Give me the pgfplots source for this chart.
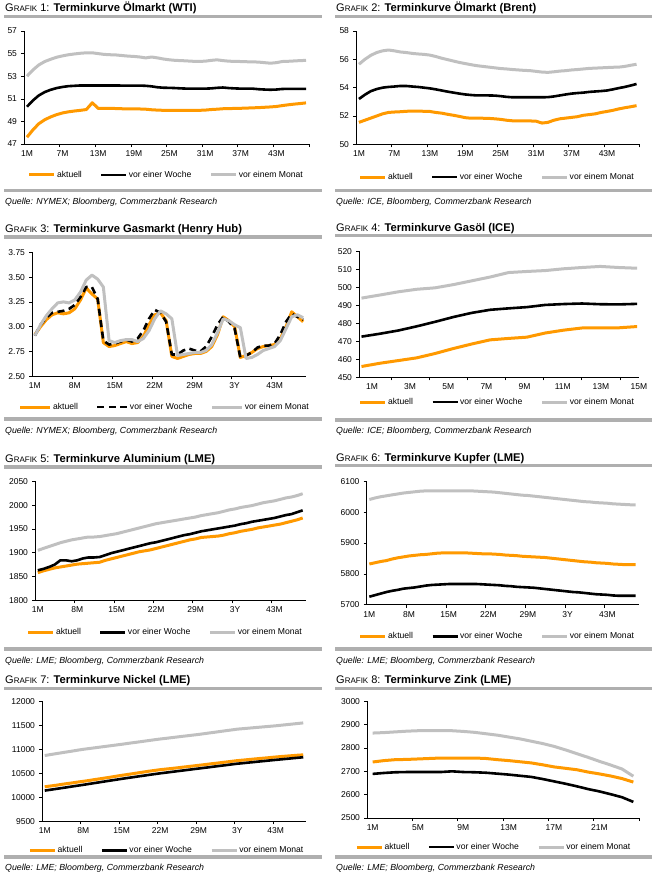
\documentclass[border=0pt]{standalone}
\usepackage{fontspec}
\setmainfont{Liberation Sans}
\usepackage{pgfplots}
\usepackage{pgfplotstable}
\pgfplotsset{compat=1.18}

\definecolor{cbOrange}{RGB}{255,153,0}
\definecolor{cbGray}{RGB}{192,192,192}
\definecolor{ruleGray}{RGB}{175,175,175}

% m = Monat, a = aktuell, w = vor einer Woche, mo = vor einem Monat
\pgfplotstableread{
m a w mo
1 47.60 50.30 53.00
2 48.25 50.85 53.55
3 48.80 51.30 54.00
4 49.15 51.60 54.30
5 49.40 51.80 54.50
6 49.60 51.95 54.68
7 49.75 52.05 54.80
8 49.85 52.12 54.90
9 49.92 52.15 54.97
10 49.98 52.18 55.03
11 50.05 52.18 55.07
12 50.65 52.18 55.07
13 50.15 52.18 55.00
14 50.15 52.18 54.93
15 50.15 52.18 54.90
16 50.14 52.18 54.88
17 50.12 52.17 54.83
18 50.10 52.17 54.78
19 50.10 52.17 54.75
20 50.10 52.17 54.70
21 50.08 52.15 54.62
22 50.03 52.10 54.70
23 50.00 52.02 54.62
24 49.98 51.98 54.52
25 49.97 51.97 54.45
26 49.97 51.95 54.40
27 49.97 51.92 54.38
28 49.97 51.90 54.35
29 49.97 51.90 54.32
30 49.98 51.90 54.31
31 50.00 51.90 54.33
32 50.05 51.92 54.40
33 50.08 51.97 54.45
34 50.12 52.00 54.38
35 50.13 51.95 54.33
36 50.15 51.92 54.31
37 50.16 51.90 54.30
38 50.18 51.90 54.28
39 50.20 51.90 54.27
40 50.22 51.85 54.25
41 50.25 51.82 54.20
42 50.28 51.80 54.15
43 50.32 51.82 54.20
44 50.40 51.87 54.30
45 50.47 51.88 54.32
46 50.53 51.88 54.35
47 50.58 51.88 54.38
48 50.64 51.88 54.40
}\wti

\pgfplotstableread{
m a w mo
1 51.55 53.20 55.65
2 51.70 53.50 56.00
3 51.85 53.75 56.28
4 52.00 53.90 56.48
5 52.15 54.00 56.60
6 52.25 54.05 56.66
7 52.28 54.08 56.60
8 52.30 54.12 56.52
9 52.33 54.12 56.48
10 52.35 54.08 56.42
11 52.35 54.05 56.38
12 52.33 54.00 56.35
13 52.32 53.95 56.30
14 52.25 53.88 56.20
15 52.20 53.80 56.08
16 52.12 53.72 55.98
17 52.05 53.65 55.88
18 51.97 53.58 55.78
19 51.88 53.52 55.70
20 51.84 53.48 55.62
21 51.84 53.45 55.55
22 51.84 53.45 55.50
23 51.83 53.45 55.45
24 51.80 53.44 55.40
25 51.76 53.40 55.35
26 51.70 53.35 55.32
27 51.66 53.32 55.28
28 51.65 53.32 55.25
29 51.65 53.32 55.22
30 51.65 53.32 55.20
31 51.63 53.32 55.15
32 51.50 53.32 55.10
33 51.55 53.33 55.08
34 51.70 53.38 55.12
35 51.80 53.45 55.17
36 51.85 53.52 55.20
37 51.90 53.58 55.25
38 51.95 53.62 55.28
39 52.05 53.65 55.32
40 52.10 53.70 55.36
41 52.15 53.73 55.38
42 52.25 53.76 55.40
43 52.32 53.80 55.42
44 52.40 53.88 55.44
45 52.50 53.97 55.45
46 52.58 54.05 55.50
47 52.65 54.15 55.58
48 52.73 54.26 55.65
}\brent

\pgfplotstableread{
m a w mo
1 2.92 2.91 2.91
2 3.00 3.02 3.02
3 3.07 3.09 3.11
4 3.12 3.14 3.18
5 3.14 3.15 3.24
6 3.13 3.16 3.25
7 3.14 3.18 3.24
8 3.18 3.22 3.27
9 3.27 3.30 3.35
10 3.39 3.40 3.47
11 3.33 3.40 3.52
12 3.28 3.28 3.48
13 2.84 2.86 3.40
14 2.80 2.82 2.86
15 2.81 2.83 2.84
16 2.83 2.85 2.86
17 2.85 2.87 2.87
18 2.83 2.85 2.87
19 2.84 2.88 2.85
20 2.90 2.96 2.88
21 3.02 3.08 2.96
22 3.12 3.17 3.08
23 3.14 3.14 3.16
24 3.06 3.05 3.13
25 2.70 2.72 3.08
26 2.68 2.72 2.71
27 2.70 2.76 2.72
28 2.72 2.78 2.73
29 2.73 2.76 2.74
30 2.73 2.75 2.74
31 2.75 2.80 2.76
32 2.80 2.90 2.82
33 2.92 3.02 2.94
34 3.10 3.10 3.08
35 3.06 3.05 3.06
36 3.00 2.98 3.02
37 2.69 2.69 2.99
38 2.71 2.71 2.68
39 2.74 2.74 2.69
40 2.78 2.79 2.72
41 2.80 2.81 2.76
42 2.81 2.81 2.78
43 2.82 2.83 2.80
44 2.88 2.92 2.86
45 3.00 3.05 2.98
46 3.15 3.13 3.10
47 3.10 3.10 3.12
48 3.05 3.07 3.09
}\gas

\pgfplotstableread{
m a w mo
0.45 456.0 472.6 494.0
1.41 457.8 474.2 495.7
2.38 459.3 476.0 497.5
3.34 460.8 478.3 498.9
4.30 463.2 480.8 499.7
5.27 466.0 483.5 501.5
6.23 468.5 485.8 503.6
7.19 470.8 487.5 505.7
8.16 471.6 488.3 508.2
9.12 472.3 489.0 508.8
10.08 474.6 490.2 509.3
11.05 476.2 490.7 510.3
12.01 477.4 491.0 511.0
12.97 477.5 490.6 511.6
13.94 477.5 490.5 511.0
14.90 478.2 490.8 510.6
}\gasoil

\pgfplotstableread{
m a w mo
1 1858 1863 1905
2 1862 1866 1909
3 1865 1870 1913
4 1868 1875 1917
5 1870 1884 1921
6 1872 1884 1924
7 1874 1882 1927
8 1876 1884 1929
9 1877 1888 1931
10 1878 1890 1933
11 1879 1890 1933
12 1880 1891 1934
13 1884 1895 1936
14 1887 1899 1938
15 1890 1902 1940
16 1893 1905 1943
17 1896 1908 1946
18 1899 1911 1949
19 1902 1914 1952
20 1904 1917 1955
21 1906 1920 1958
22 1909 1922 1961
23 1912 1925 1963
24 1915 1928 1965
25 1918 1931 1967
26 1921 1934 1969
27 1924 1937 1971
28 1927 1939 1973
29 1929 1942 1975
30 1932 1945 1978
31 1933 1947 1980
32 1934 1949 1982
33 1935 1951 1984
34 1937 1953 1987
35 1940 1955 1990
36 1942 1957 1992
37 1945 1960 1995
38 1947 1962 1997
39 1949 1965 1999
40 1952 1967 2002
41 1954 1969 2005
42 1956 1971 2007
43 1958 1973 2009
44 1960 1976 2012
45 1963 1979 2015
46 1966 1981 2017
47 1969 1985 2020
48 1973 1989 2024
}\alu

\pgfplotstableread{
m a w mo
1 5832 5726 6041
2 5836 5731 6046
3 5840 5736 6050
4 5843 5741 6053
5 5848 5745 6056
6 5852 5748 6059
7 5855 5752 6062
8 5858 5754 6064
9 5860 5756 6066
10 5862 5759 6068
11 5863 5762 6069
12 5865 5764 6069
13 5867 5765 6069
14 5868 5766 6069
15 5868 5767 6069
16 5868 5767 6069
17 5868 5767 6069
18 5868 5767 6069
19 5867 5767 6069
20 5866 5767 6068
21 5865 5766 6067
22 5865 5765 6066
23 5864 5764 6065
24 5863 5763 6063
25 5861 5761 6061
26 5860 5760 6059
27 5859 5758 6057
28 5857 5757 6055
29 5856 5756 6054
30 5855 5755 6052
31 5854 5753 6050
32 5853 5751 6048
33 5851 5749 6046
34 5849 5747 6044
35 5847 5745 6042
36 5845 5743 6040
37 5843 5741 6038
38 5841 5740 6036
39 5839 5738 6034
40 5838 5736 6033
41 5836 5734 6031
42 5835 5733 6030
43 5834 5732 6029
44 5832 5730 6027
45 5831 5729 6026
46 5830 5729 6025
47 5830 5729 6024
48 5830 5729 6024
}\kupfer

\pgfplotstableread{
m a w mo
1 10220 10140 10870
2 10235 10157 10890
3 10250 10174 10908
4 10268 10191 10927
5 10285 10208 10945
6 10300 10226 10963
7 10318 10243 10982
8 10333 10260 11000
9 10350 10278 11015
10 10368 10296 11030
11 10385 10314 11045
12 10403 10332 11060
13 10420 10350 11075
14 10440 10367 11090
15 10458 10385 11105
16 10475 10402 11121
17 10492 10418 11137
18 10510 10435 11152
19 10527 10451 11168
20 10545 10468 11184
21 10560 10484 11200
22 10576 10500 11215
23 10588 10514 11228
24 10600 10528 11242
25 10613 10543 11256
26 10627 10557 11270
27 10640 10571 11283
28 10653 10586 11297
29 10667 10600 11310
30 10680 10614 11326
31 10695 10628 11342
32 10708 10643 11357
33 10722 10657 11373
34 10736 10671 11389
35 10750 10686 11404
36 10764 10700 11420
37 10775 10711 11430
38 10786 10723 11440
39 10797 10734 11450
40 10808 10746 11460
41 10818 10757 11470
42 10829 10769 11480
43 10840 10780 11490
44 10850 10791 11502
45 10859 10802 11514
46 10868 10813 11526
47 10877 10824 11538
48 10885 10835 11550
}\nickel

\pgfplotstableread{
m a w mo
1 2740 2689 2864
2 2746 2693 2866
3 2750 2696 2869
4 2751 2697 2872
5 2753 2697 2874
6 2755 2697 2874
7 2757 2697 2874
8 2757 2700 2874
9 2757 2697 2871
10 2757 2696 2867
11 2755 2694 2861
12 2750 2690 2855
13 2746 2686 2847
14 2741 2681 2839
15 2736 2676 2829
16 2728 2667 2819
17 2719 2657 2807
18 2713 2647 2792
19 2707 2636 2776
20 2697 2624 2760
21 2689 2614 2743
22 2680 2602 2727
23 2669 2589 2710
24 2654 2569 2679
}\zink

\pgfplotsset{
  panel/.style={
    scale only axis, anchor=south west, clip=false,
    axis x line*=bottom, axis y line*=left,
    axis line style={black, line width=0.6pt},
    tick align=outside,
    major tick length=0pt, minor tick length=3pt,
    minor tick style={black, line width=0.6pt},
    ticklabel style={font=\fontsize{8.5}{10}\selectfont},
    scaled y ticks=false,
    /pgf/number format/assume math mode=true,
    /pgf/number format/1000 sep={},
    yticklabel style={xshift=-3.5pt},
    xticklabel style={yshift=-3pt},
    legend columns=3,
    legend image code/.code={\draw[##1] (0pt,0pt) -- (25pt,0pt);},
    legend style={draw=none, fill=none, anchor=center,
      font=\fontsize{8.6}{10}\selectfont, inner sep=0pt,
      nodes={inner xsep=1.2pt, inner ysep=0.5pt},
      /tikz/every even column/.append style={column sep=17pt}},
    legend cell align=left,
  },
  akt/.style={cbOrange, line width=3pt, line join=round},
  woc/.style={black, line width=2.6pt, line join=round},
  mon/.style={cbGray, line width=3pt, line join=round},
  m48/.style={xmin=0.5, xmax=48.5},
}

\newcommand{\grafik}[4]{\node[anchor=base west, inner sep=0pt] at (#1pt,-#2pt)
  {\fontsize{11}{13}\selectfont G\fontsize{8}{10}\selectfont RAFIK\fontsize{11}{13}\selectfont\ #3: \bfseries\fontsize{11.2}{13}\selectfont #4};}
\newcommand{\quelle}[3]{\node[anchor=base west, inner sep=0pt] at (#1pt,-#2pt)
  {\fontsize{8.8}{10}\selectfont\itshape #3};}
\newcommand{\regel}[4]{\fill[ruleGray] (#1pt,-#3pt) rectangle (#2pt,-#4pt);}

\begin{document}
\begin{tikzpicture}
\path[use as bounding box] (0pt,0pt) rectangle (652pt,-879pt);

% ---------- Grafik 1: WTI
\grafik{5}{11}{1}{Terminkurve Ölmarkt (WTI)}
\regel{4}{322}{15}{18.3}
\begin{axis}[panel, m48, at={(24pt,-144pt)}, width=285pt, height=113pt,
  ymin=47, ymax=57, ytick={47,49,...,57}, minor ytick={47,49,...,57},
  xtick={1,7,...,43}, xticklabels={1M,7M,13M,19M,25M,31M,37M,43M},
  minor xtick={6.5,12.5,...,48.5},
  legend style={at={(0.498,-0.274)}}]
\addplot[akt] table[x=m,y=a] {\wti};
\addplot[woc] table[x=m,y=w] {\wti};
\addplot[mon] table[x=m,y=mo] {\wti};
\legend{aktuell,vor einer Woche,vor einem Monat}
\end{axis}
\regel{4}{322}{188.5}{192}
\quelle{5}{204}{Quelle: NYMEX; Bloomberg, Commerzbank Research}

% ---------- Grafik 2: Brent
\grafik{336}{11}{2}{Terminkurve Ölmarkt (Brent)}
\regel{335}{652}{14.8}{18}
\begin{axis}[panel, m48, at={(356pt,-144.3pt)}, width=283.5pt, height=113.3pt,
  ymin=50, ymax=58, ytick={50,52,...,58}, minor ytick={50,52,...,58},
  xtick={1,7,...,43}, xticklabels={1M,7M,13M,19M,25M,31M,37M,43M},
  minor xtick={6.5,12.5,...,48.5},
  legend style={at={(0.497,-0.289)}}]
\addplot[akt] table[x=m,y=a] {\brent};
\addplot[woc] table[x=m,y=w] {\brent};
\addplot[mon] table[x=m,y=mo] {\brent};
\legend{aktuell,vor einer Woche,vor einem Monat}
\end{axis}
\regel{335}{652}{188.5}{192}
\quelle{336}{204}{Quelle: ICE, Bloomberg, Commerzbank Research}

% ---------- Grafik 3: Henry Hub
\grafik{5}{232}{3}{Terminkurve Gasmarkt (Henry Hub)}
\regel{4}{322}{235.3}{238.7}
\begin{axis}[panel, m48, at={(32pt,-376.3pt)}, width=274pt, height=124pt,
  ymin=2.5, ymax=3.75, ytick={2.5,2.75,...,3.76}, minor ytick={2.5,2.75,...,3.76},
  yticklabel style={/pgf/number format/.cd, fixed, fixed zerofill, precision=2},
  xtick={1,8,...,43}, xticklabels={1M,8M,15M,22M,29M,3Y,43M},
  minor xtick={7.5,14.5,...,42.5},
  legend image code/.code={\draw[#1] (0pt,0pt) -- (30pt,0pt);},
  legend style={at={(0.4836,-0.2476)}}]
\addplot[akt] table[x=m,y=a] {\gas};
\addplot[woc, dash pattern=on 7pt off 4.5pt] table[x=m,y=w] {\gas};
\addplot[mon] table[x=m,y=mo] {\gas};
\legend{aktuell,vor einer Woche,vor einem Monat}
\end{axis}
\regel{4}{322}{417.3}{421}
\quelle{5}{433}{Quelle: NYMEX; Bloomberg, Commerzbank Research}

% ---------- Grafik 4: Gasoel
\grafik{336}{231}{4}{Terminkurve Gasöl (ICE)}
\regel{335}{652}{234}{237.3}
\begin{axis}[panel, at={(359pt,-377.3pt)}, width=280pt, height=126pt,
  xmin=0.32, xmax=15.0,
  ymin=450, ymax=520, ytick={450,460,...,520}, minor ytick={450,460,...,520},
  xtick={1,3,...,15}, xticklabels={1M,3M,5M,7M,9M,11M,13M,15M},
  minor xtick={2,4,...,14},
  legend style={at={(0.493,-0.197)}}]
\addplot[akt] table[x=m,y=a] {\gasoil};
\addplot[woc] table[x=m,y=w] {\gasoil};
\addplot[mon] table[x=m,y=mo] {\gasoil};
\legend{aktuell,vor einer Woche,vor einem Monat}
\end{axis}
\regel{335}{652}{418}{421.5}
\quelle{336}{433}{Quelle: ICE; Bloomberg, Commerzbank Research}

% ---------- Grafik 5: Aluminium
\grafik{5}{462.3}{5}{Terminkurve Aluminium (LME)}
\regel{4}{322}{465.3}{468.7}
\begin{axis}[panel, m48, at={(35pt,-600.3pt)}, width=270.5pt, height=119pt,
  ymin=1800, ymax=2050, ytick={1800,1850,...,2050}, minor ytick={1800,1850,...,2050},
  xtick={1,8,...,43}, xticklabels={1M,8M,15M,22M,29M,3Y,43M},
  minor xtick={7.5,14.5,...,42.5},
  legend style={at={(0.4806,-0.2705)}}]
\addplot[akt] table[x=m,y=a] {\alu};
\addplot[woc] table[x=m,y=w] {\alu};
\addplot[mon] table[x=m,y=mo] {\alu};
\legend{aktuell,vor einer Woche,vor einem Monat}
\end{axis}
\regel{4}{322}{647}{651}
\quelle{5}{663}{Quelle: LME; Bloomberg, Commerzbank Research}

% ---------- Grafik 6: Kupfer
\grafik{336}{461.3}{6}{Terminkurve Kupfer (LME)}
\regel{335}{652}{464}{467.3}
\begin{axis}[panel, m48, at={(366.5pt,-604.7pt)}, width=272pt, height=123.4pt,
  ymin=5700, ymax=6100, ytick={5700,5800,...,6100}, minor ytick={5700,5800,...,6100},
  xtick={1,8,...,43}, xticklabels={1M,8M,15M,22M,29M,3Y,43M},
  minor xtick={7.5,14.5,...,42.5},
  legend style={at={(0.48,-0.2556)}}]
\addplot[akt] table[x=m,y=a] {\kupfer};
\addplot[woc] table[x=m,y=w] {\kupfer};
\addplot[mon] table[x=m,y=mo] {\kupfer};
\legend{aktuell,vor einer Woche,vor einem Monat}
\end{axis}
\regel{335}{652}{647}{651}
\quelle{336}{663}{Quelle: LME; Bloomberg, Commerzbank Research}

% ---------- Grafik 7: Nickel
\grafik{5}{683.5}{7}{Terminkurve Nickel (LME)}
\regel{4}{322}{686.5}{689.7}
\begin{axis}[panel, m48, at={(42pt,-821.3pt)}, width=264pt, height=120pt,
  ymin=9500, ymax=12000, ytick={9500,10000,...,12000}, minor ytick={9500,10000,...,12000},
  xtick={1,8,...,43}, xticklabels={1M,8M,15M,22M,29M,3Y,43M},
  minor xtick={7.5,14.5,...,42.5},
  legend style={at={(0.4716,-0.2417)}}]
\addplot[akt] table[x=m,y=a] {\nickel};
\addplot[woc] table[x=m,y=w] {\nickel};
\addplot[mon] table[x=m,y=mo] {\nickel};
\legend{aktuell,vor einer Woche,vor einem Monat}
\end{axis}
\regel{4}{322}{854.7}{858.5}
\quelle{5}{870.5}{Quelle: LME; Bloomberg, Commerzbank Research}

% ---------- Grafik 8: Zink
\grafik{336}{683.5}{8}{Terminkurve Zink (LME)}
\regel{335}{652}{686.5}{689.7}
\begin{axis}[panel, at={(367pt,-818pt)}, width=272pt, height=116.7pt,
  xmin=0.5, xmax=24.5,
  ymin=2500, ymax=3000, ytick={2500,2600,...,3000}, minor ytick={2500,2600,...,3000},
  xtick={1,5,...,21}, xticklabels={1M,5M,9M,13M,17M,21M},
  minor xtick={4.5,8.5,...,24.5},
  legend style={at={(0.465,-0.2485)}}]
\addplot[akt] table[x=m,y=a] {\zink};
\addplot[woc] table[x=m,y=w] {\zink};
\addplot[mon] table[x=m,y=mo] {\zink};
\legend{aktuell,vor einer Woche,vor einem Monat}
\end{axis}
\regel{335}{652}{854.7}{858.5}
\quelle{336}{870.5}{Quelle: LME; Bloomberg, Commerzbank Research}

\end{tikzpicture}
\end{document}
